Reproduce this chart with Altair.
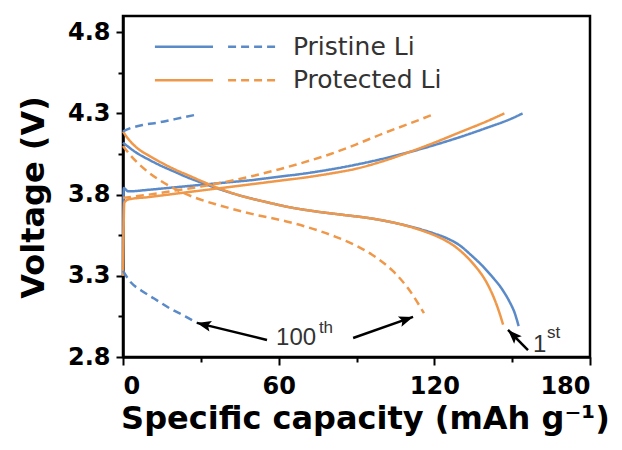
import math
import pandas as pd
import altair as alt

# ---- charge / discharge profiles (capacity in mAh/g, voltage in V) ----
# Pristine Li, 1st cycle
p1_chg_cap = [0, 0.3, 2, 10, 20, 30, 40, 50, 60, 70, 80, 90, 100, 110, 120, 130, 140, 150, 154]
p1_chg_v = [3.30, 3.84, 3.82, 3.83, 3.845, 3.86, 3.875, 3.89, 3.91, 3.93, 3.955, 3.985, 4.02, 4.06, 4.105, 4.155, 4.21, 4.27, 4.30]
p1_dis_cap = [0, 2, 5, 10, 15, 20, 25, 30, 36, 45, 55, 65, 75, 85, 95, 105, 115, 120, 125, 130, 134, 138, 142, 146, 149, 151, 152.5]
p1_dis_v = [4.12, 4.095, 4.06, 4.015, 3.975, 3.94, 3.905, 3.875, 3.84, 3.795, 3.755, 3.72, 3.695, 3.675, 3.655, 3.625, 3.585, 3.56, 3.53, 3.485, 3.43, 3.37, 3.30, 3.22, 3.14, 3.07, 2.99]

# Protected Li, 1st cycle
pr1_chg_cap = [0, 0.5, 2, 10, 20, 30, 40, 50, 60, 70, 80, 90, 100, 110, 120, 130, 140, 147]
pr1_chg_v = [3.30, 3.75, 3.77, 3.785, 3.805, 3.825, 3.845, 3.865, 3.885, 3.905, 3.93, 3.96, 4.005, 4.06, 4.12, 4.185, 4.25, 4.30]
pr1_dis_cap = [0, 1, 3, 6, 10, 15, 20, 25, 30, 36, 45, 55, 65, 75, 85, 95, 105, 115, 120, 124, 128, 132, 136, 139, 142, 144.5, 146.5]
pr1_dis_v = [4.19, 4.165, 4.125, 4.08, 4.04, 3.995, 3.955, 3.92, 3.885, 3.845, 3.795, 3.755, 3.72, 3.695, 3.675, 3.655, 3.625, 3.58, 3.55, 3.52, 3.48, 3.425, 3.355, 3.29, 3.20, 3.10, 3.00]

# Pristine Li, 100th cycle
p100_chg_cap = [0, 3, 8, 14, 20, 27.5]
p100_chg_v = [4.19, 4.21, 4.23, 4.245, 4.265, 4.29]
p100_dis_cap = [0, 3, 7, 12, 18, 24, 28.5]
p100_dis_v = [3.33, 3.26, 3.21, 3.16, 3.10, 3.05, 3.01]

# Protected Li, 100th cycle
pr100_chg_cap = [0, 10, 20, 30, 40, 50, 60, 70, 80, 90, 100, 110, 119]
pr100_chg_v = [3.78, 3.80, 3.825, 3.85, 3.88, 3.915, 3.955, 4.00, 4.05, 4.11, 4.175, 4.235, 4.29]
pr100_dis_cap = [0, 3, 6, 10, 14, 20, 28, 37, 50, 63, 70, 76, 82, 88, 96, 104, 110, 116]
pr100_dis_v = [4.10, 4.04, 3.99, 3.935, 3.89, 3.835, 3.78, 3.735, 3.68, 3.635, 3.605, 3.575, 3.54, 3.50, 3.43, 3.33, 3.22, 3.07]

samples = ["Pristine Li", "Protected Li"]
cycles = ["1st", "100th"]
colors = ["#5b8ac9", "#f0984a"]

curves = [
    ("Pristine Li", "1st", "charge", p1_chg_cap, p1_chg_v),
    ("Pristine Li", "1st", "discharge", p1_dis_cap, p1_dis_v),
    ("Protected Li", "1st", "charge", pr1_chg_cap, pr1_chg_v),
    ("Protected Li", "1st", "discharge", pr1_dis_cap, pr1_dis_v),
    ("Pristine Li", "100th", "charge", p100_chg_cap, p100_chg_v),
    ("Pristine Li", "100th", "discharge", p100_dis_cap, p100_dis_v),
    ("Protected Li", "100th", "charge", pr100_chg_cap, pr100_chg_v),
    ("Protected Li", "100th", "discharge", pr100_dis_cap, pr100_dis_v),
]

# ---- cycle annotations: arrows (tail -> head) and labels ----
arrow_tail_cap = [55.5, 88.7, 156.1]
arrow_tail_v = [2.905, 2.917, 2.843]
arrow_head_cap = [28.5, 111.8, 148.4]
arrow_head_v = [3.01, 3.047, 2.967]

label_text = ["100", "1"]
label_cap = [59.0, 158.0]
label_v = [2.872, 2.831]
sup_text = ["th", "st"]
sup_cap = [75.5, 163.4]
sup_v = [2.95, 2.917]

# ---- layout ----
W, H = 467, 341
X_DOMAIN = [0, 180]
Y_DOMAIN = [2.8, 4.9]
px_per_cap = W / (X_DOMAIN[1] - X_DOMAIN[0])
px_per_v = H / (Y_DOMAIN[1] - Y_DOMAIN[0])

rows = []
for sample, cycle, step, caps, volts in curves:
    for i, (c, v) in enumerate(zip(caps, volts)):
        rows.append({"sample": sample, "cycle": cycle,
                     "curve": f"{sample} {cycle} {step}", "idx": i,
                     "cap": c, "v": v})
df = pd.DataFrame(rows)


def heading(x0, y0, x1, y1):
    dx = (x1 - x0) * px_per_cap
    dy = -(y1 - y0) * px_per_v
    return math.degrees(math.atan2(dx, -dy)) % 360


arrows = pd.DataFrame({
    "cap": arrow_tail_cap, "v": arrow_tail_v,
    "cap2": arrow_head_cap, "v2": arrow_head_v,
})
heads = pd.DataFrame({
    "cap": arrow_head_cap, "v": arrow_head_v,
    "angle": [heading(a, b, c, d) for a, b, c, d in
              zip(arrow_tail_cap, arrow_tail_v, arrow_head_cap, arrow_head_v)],
})
labels = pd.DataFrame({"cap": label_cap, "v": label_v, "text": label_text})
sups = pd.DataFrame({"cap": sup_cap, "v": sup_v, "text": sup_text})

# legend block in the upper-left corner
leg_v = [4.71, 4.505]
legend_solid = pd.DataFrame({"sample": samples, "cycle": "1st",
                             "cap": 12.3, "cap2": 34.7, "v": leg_v})
legend_dash = pd.DataFrame({"sample": samples, "cycle": "100th",
                            "cap": 40.5, "cap2": 59.4, "v": leg_v})
legend_text = pd.DataFrame({"text": samples, "cap": 65.5, "v": leg_v})

x_scale = alt.Scale(domain=X_DOMAIN, nice=False, zero=False)
y_scale = alt.Scale(domain=Y_DOMAIN, nice=False, zero=False)
color_scale = alt.Scale(domain=samples, range=colors)
dash_scale = alt.Scale(domain=cycles, range=[[1, 0], [8, 5]])

x_axis = alt.Axis(
    values=[0, 30, 60, 90, 120, 150, 180],
    labelExpr="datum.value % 60 === 0 ? datum.label : ''",
    tickSize={"condition": {"test": "datum.value % 60 === 0", "value": 8}, "value": 5},
    labelPadding=9,
    title="Specific capacity (mAh g⁻¹)",
    titleX=242, titleY=71, titleAlign="center", titleBaseline="alphabetic",
)
y_axis = alt.Axis(
    values=[2.8, 3.05, 3.3, 3.55, 3.8, 4.05, 4.3, 4.55, 4.8],
    format=".1f",
    labelExpr="round(datum.value * 100) % 50 === 30 ? datum.label : ''",
    tickSize={"condition": {"test": "round(datum.value * 100) % 50 === 30", "value": 7}, "value": 5},
    labelPadding=6,
    title="Voltage (V)",
    titleX=-90, titleY=181, titleAngle=270, titleAlign="center", titleBaseline="middle",
)

X = alt.X("cap:Q", scale=x_scale, axis=x_axis)
Y = alt.Y("v:Q", scale=y_scale, axis=y_axis)

lines = alt.Chart(df).mark_line(strokeWidth=2.5, interpolate="monotone").encode(
    x=X, y=Y,
    color=alt.Color("sample:N", scale=color_scale, legend=None),
    strokeDash=alt.StrokeDash("cycle:N", scale=dash_scale, legend=None),
    detail="curve:N",
    order="idx:Q",
)

shafts = alt.Chart(arrows).mark_rule(color="black", strokeWidth=2.5).encode(
    x=X, y=Y, x2="cap2:Q", y2="v2:Q")

HEAD = "M0,0L0.38,1L0,0.8L-0.38,1Z"
arrowheads = alt.Chart(heads).mark_point(
    shape=HEAD, filled=True, color="black", opacity=1, size=800, strokeWidth=0
).encode(x=X, y=Y, angle=alt.Angle("angle:Q", scale=None))

label_marks = alt.Chart(labels).mark_text(
    align="left", baseline="alphabetic", font="Liberation Sans",
    fontSize=24, color="#333333"
).encode(x=X, y=Y, text="text:N")

sup_marks = alt.Chart(sups).mark_text(
    align="left", baseline="alphabetic", font="Liberation Sans",
    fontSize=17, color="#333333"
).encode(x=X, y=Y, text="text:N")

leg_solid = alt.Chart(legend_solid).mark_rule(strokeWidth=2.5).encode(
    x=X, x2="cap2:Q", y=Y,
    color=alt.Color("sample:N", scale=color_scale, legend=None),
    strokeDash=alt.StrokeDash("cycle:N", scale=dash_scale, legend=None))
leg_dash = alt.Chart(legend_dash).mark_rule(strokeWidth=2.5).encode(
    x=X, x2="cap2:Q", y=Y,
    color=alt.Color("sample:N", scale=color_scale, legend=None),
    strokeDash=alt.StrokeDash("cycle:N", scale=dash_scale, legend=None))
leg_text = alt.Chart(legend_text).mark_text(
    align="left", baseline="middle", font="DejaVu Sans",
    fontSize=25, color="#333333"
).encode(x=X, y=Y, text="text:N")

chart = alt.layer(
    lines, shafts, arrowheads, label_marks, sup_marks, leg_solid, leg_dash, leg_text
).properties(
    width=W, height=H,
    autosize=alt.AutoSizeParams(type="none"),
    padding={"left": 123, "top": 16, "right": 32, "bottom": 93},
    background="white",
).configure_view(
    stroke="black", strokeWidth=2.5
).configure_axis(
    grid=False,
    domainColor="black", domainWidth=2.5,
    tickColor="black", tickWidth=2,
    labelFont="DejaVu Sans", labelFontWeight="bold", labelFontSize=24, labelColor="black",
    titleFont="DejaVu Sans", titleFontWeight="bold", titleFontSize=32, titleColor="black",
)

chart.save("out.html", embed_options={"renderer": "svg", "actions": False})
